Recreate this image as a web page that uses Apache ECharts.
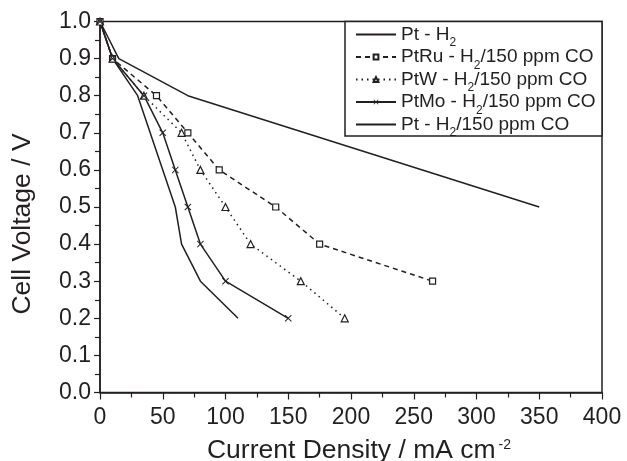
<!DOCTYPE html>
<html>
<head>
<meta charset="utf-8">
<script src="https://cdn.jsdelivr.net/npm/echarts@6/dist/echarts.min.js"></script>
<style>
  html, body { margin: 0; padding: 0; background: #fff; }
  #main { width: 627px; height: 461px; }
</style>
</head>
<body>
<div id="main"></div>
<script>
// data (x: current density, y: cell voltage)
var ptH2X = [0, 15, 70, 350];
var ptH2Y = [1.0, 0.9, 0.8, 0.5];

var ptRuX = [0, 10, 45, 70, 95, 140, 175, 265];
var ptRuY = [1.0, 0.9, 0.8, 0.7, 0.6, 0.5, 0.4, 0.3];

var ptWX = [0, 10, 35, 65, 80, 100, 120, 160, 195];
var ptWY = [1.0, 0.9, 0.8, 0.7, 0.6, 0.5, 0.4, 0.3, 0.2];

var ptMoX = [0, 10, 35, 50, 60, 70, 80, 100, 150];
var ptMoY = [1.0, 0.9, 0.8, 0.7, 0.6, 0.5, 0.4, 0.3, 0.2];

var ptCOX = [0, 10, 30, 60, 65, 80, 110];
var ptCOY = [1.0, 0.9, 0.8, 0.5, 0.4, 0.3, 0.2];

var names = ['Pt - H2', 'PtRu - H2/150 ppm CO', 'PtW - H2/150 ppm CO', 'PtMo - H2/150 ppm CO', 'Pt - H2/150 ppm CO'];
var legendRich = {
  'Pt - H2': '{a|Pt - H}{s|2}',
  'PtRu - H2/150 ppm CO': '{a|PtRu - H}{s|2}{a|/150 ppm CO}',
  'PtW - H2/150 ppm CO': '{a|PtW - H}{s|2}{a|/150 ppm CO}',
  'PtMo - H2/150 ppm CO': '{a|PtMo - H}{s|2}{a|/150 ppm CO}',
  'Pt - H2/150 ppm CO': '{a|Pt - H}{s|2}{a|/150 ppm CO}'
};

function pairs(xs, ys) {
  var out = [];
  for (var i = 0; i < xs.length; i++) out.push([xs[i], ys[i]]);
  return out;
}

var ink = '#231f20';
var font = 'Liberation Sans, Arial, sans-serif';
var cross = 'path://M0,1L1,0L5,4L9,0L10,1L6,5L10,9L9,10L5,6L1,10L0,9L4,5Z';

var myChart = echarts.init(document.getElementById('main'));

var option = {
  animation: false,
  backgroundColor: '#fff',
  grid: {
    left: 100, right: 25, top: 21.5, bottom: 68.5,
    outerBoundsMode: 'none', containLabel: false,
    show: true, borderColor: ink, borderWidth: 1.5, backgroundColor: 'transparent'
  },
  graphic: [{
    type: 'rect', z: 3,
    shape: { x: 345, y: 21.5, width: 257, height: 114.5 },
    style: { fill: '#fff', stroke: ink, lineWidth: 1.5 }
  }],
  legend: {
    orient: 'vertical',
    left: 355, top: 25,
    padding: 0,
    itemGap: -8.5,
    itemWidth: 40,
    itemHeight: 6,
    data: [
      { name: names[0], itemStyle: { opacity: 0 } },
      names[1], names[2], names[3],
      { name: names[4], itemStyle: { opacity: 0 } }
    ],
    formatter: function (name) { return legendRich[name]; },
    textStyle: {
      color: ink,
      rich: {
        a: { fontFamily: font, fontSize: 19, color: ink, lineHeight: 19, verticalAlign: 'top', padding: [0, 0, 12, 0] },
        s: { fontFamily: font, fontSize: 12, color: ink, lineHeight: 12, verticalAlign: 'top', padding: [12, 0, 4, 0] }
      }
    }
  },
  xAxis: {
    type: 'value',
    min: 0, max: 400, interval: 50,
    name: '{a|Current Density / mA cm}{s|-2}',
    nameLocation: 'middle',
    nameGap: 46,
    nameTextStyle: {
      padding: [0, 0, 0, 16],
      rich: {
        a: { fontFamily: font, fontSize: 26.5, color: ink, lineHeight: 26, verticalAlign: 'bottom' },
        s: { fontFamily: font, fontSize: 14, color: ink, lineHeight: 14, verticalAlign: 'top', padding: [0, 0, 20, 3] }
      }
    },
    axisLine: { lineStyle: { color: ink, width: 1.5 } },
    axisTick: { show: true, inside: false, length: 7, lineStyle: { color: ink, width: 1.2 } },
    minorTick: { show: true, splitNumber: 2, length: 5, lineStyle: { color: ink, width: 1.2 } },
    splitLine: { show: false },
    axisLabel: { color: ink, fontFamily: font, fontSize: 23, margin: 14 }
  },
  yAxis: {
    type: 'value',
    min: 0, max: 1, interval: 0.1,
    name: 'Cell Voltage / V',
    nameLocation: 'middle',
    nameGap: 64,
    nameTextStyle: { fontFamily: font, fontSize: 26.5, color: ink, padding: [0, 34, 0, 0] },
    axisLine: { show: true, lineStyle: { color: ink, width: 1.5 } },
    axisTick: { show: true, inside: false, length: 6, lineStyle: { color: ink, width: 1.2 } },
    minorTick: { show: true, splitNumber: 2, length: 5, lineStyle: { color: ink, width: 1.2 } },
    splitLine: { show: false },
    axisLabel: {
      color: ink, fontFamily: font, fontSize: 23, margin: 9,
      formatter: function (v) { return v.toFixed(1); }
    }
  },
  series: [
    {
      name: names[0], type: 'line', data: pairs(ptH2X, ptH2Y),
      symbol: 'none', showSymbol: false,
      lineStyle: { color: ink, width: 1.5 },
      itemStyle: { color: ink }
    },
    {
      name: names[1], type: 'line', data: pairs(ptRuX, ptRuY),
      symbol: 'rect', symbolSize: 6,
      lineStyle: { color: ink, width: 1.5, type: [5, 4] },
      itemStyle: { color: '#fff', borderColor: ink, borderWidth: 1.2 }
    },
    {
      name: names[2], type: 'line', data: pairs(ptWX, ptWY),
      symbol: 'triangle', symbolSize: 7,
      lineStyle: { color: ink, width: 1.5, type: [1.5, 4] },
      itemStyle: { color: '#fff', borderColor: ink, borderWidth: 1.2 }
    },
    {
      name: names[3], type: 'line', data: pairs(ptMoX, ptMoY),
      symbol: cross, symbolSize: 7,
      lineStyle: { color: ink, width: 1.5 },
      itemStyle: { color: ink, borderWidth: 0 }
    },
    {
      name: names[4], type: 'line', data: pairs(ptCOX, ptCOY),
      symbol: 'none', showSymbol: false,
      lineStyle: { color: ink, width: 1.5 },
      itemStyle: { color: ink }
    }
  ]
};

myChart.setOption(option);
</script>
</body>
</html>
